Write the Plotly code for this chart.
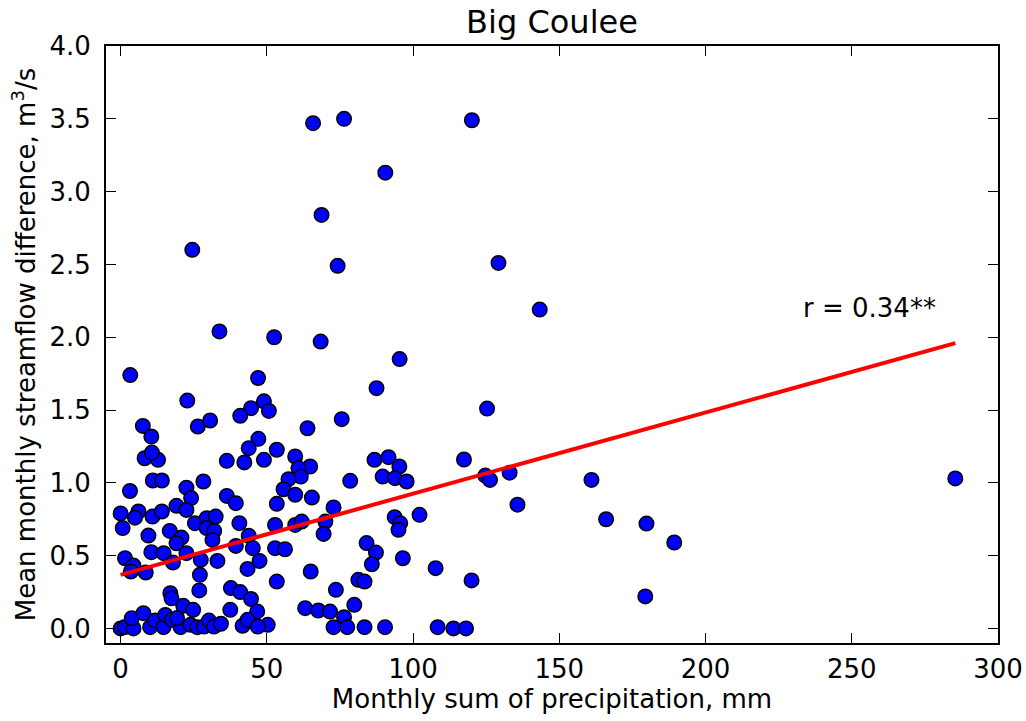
import plotly.graph_objects as go

# Monthly sum of precipitation (mm)
precip = [
    65.8, 76.4, 90.5, 68.7, 24.5, 74.2, 33.8, 52.5, 68.4, 95.4, 3.3, 47.0, 87.5,
    120.1, 129.2, 143.3, 125.3, 117.4, 124.7, 126.3, 133.0, 161.0, 135.7, 166.0, 179.8, 189.3, 285.4, 120.0, 179.4, 113.8, 118.1,
    22.8, 49.0, 44.6, 40.9, 50.7, 7.6, 26.4, 30.6, 10.5, 47.1, 43.8, 53.4, 8.2, 12.8, 10.7, 36.3, 42.3, 49.0,
    11.0, 14.1, 28.3, 3.2, 22.5, 24.1, 36.3, 39.4, 19.1, 22.5, 0.0, 6.1, 4.9, 10.9, 14.1, 0.7, 9.5, 16.8, 20.8,
    25.4, 29.4, 32.5, 29.4, 32.0, 31.4, 19.1, 10.5, 14.7, 17.9, 22.5, 27.4, 33.1, 1.5, 4.4, 3.5, 8.6, 27.1,
    39.4, 40.6, 43.8, 47.5, 43.4, 45.2, 26.9, 17.0, 17.4, 21.4, 24.8, 37.7, 40.9, 44.6, 46.7, 37.5, 50.3,
    0.0, 1.5, 4.4, 3.8, 7.8, 10.1, 11.8, 14.7, 15.3, 17.6, 20.5, 19.3, 23.9, 26.2, 28.5, 30.2, 31.9, 34.3,
    41.7, 43.4, 46.9,
    75.6, 63.9, 59.7, 86.8, 91.6, 95.3, 64.8, 60.8, 61.6, 57.4, 78.5, 89.6, 93.8, 97.8, 55.7, 59.7, 65.4,
    53.4, 72.8, 52.8, 59.7, 61.9, 70.0, 69.4, 93.7, 95.6, 95.0, 102.2, 52.8, 56.2, 84.1, 87.3, 85.9, 96.5,
    107.7, 65.0, 53.4, 81.3, 83.4, 73.6, 63.1, 67.6, 71.6, 79.9, 76.4, 72.8, 77.5, 83.4, 90.4, 108.4,
]

# Mean monthly streamflow difference (m3/s)
flow = [
    3.47, 3.50, 3.13, 2.84, 2.60, 2.49, 2.04, 2.00, 1.97, 1.85, 1.74, 1.72, 1.65,
    3.49, 2.51, 2.19, 1.51, 1.16, 1.05, 1.02, 1.07, 1.02, 0.85, 0.75, 0.72, 0.59, 1.03, 0.33, 0.22, 0.00, 0.00,
    1.565, 1.56, 1.513, 1.46, 1.494, 1.391, 1.387, 1.428, 1.318, 1.302, 1.238, 1.227, 1.169, 1.158, 1.208, 1.151, 1.14, 1.158,
    1.016, 1.016, 1.009, 0.944, 0.967, 0.895, 0.91, 0.86, 0.842, 0.814, 0.79, 0.803, 0.761, 0.768, 0.803, 0.689, 0.638, 0.67, 0.624,
    0.723, 0.757, 0.768, 0.689, 0.67, 0.608, 0.585, 0.524, 0.517, 0.453, 0.517, 0.471, 0.464, 0.482, 0.432, 0.391, 0.384, 0.368,
    0.567, 0.723, 0.636, 0.464, 0.409, 0.551, 0.261, 0.242, 0.207, 0.155, 0.128, 0.277, 0.25, 0.202, 0.117, 0.128, 0.025,
    0.0, 0.01, 0.0, 0.07, 0.105, 0.009, 0.055, 0.009, 0.093, 0.059, 0.009, 0.071, 0.025, 0.009, 0.013, 0.054, 0.013, 0.032,
    0.018, 0.059, 0.013,
    1.437, 1.375, 1.181, 1.158, 1.176, 1.112, 1.112, 1.101, 1.043, 1.025, 1.014, 1.043, 1.032, 1.009, 0.956, 0.918, 0.899,
    0.856, 0.831, 0.711, 0.711, 0.734, 0.734, 0.649, 0.764, 0.723, 0.677, 0.78, 0.551, 0.544, 0.586, 0.521, 0.441, 0.482,
    0.414, 0.391, 0.322, 0.334, 0.322, 0.265, 0.139, 0.123, 0.116, 0.162, 0.077, 0.009, 0.009, 0.009, 0.009, 0.009,
]

# Linear fit
fit_intercept = 0.368
fit_slope = 0.005575
fit_x = [min(precip), max(precip)]
fit_y = [fit_intercept + fit_slope * v for v in fit_x]

x_ticks = [0, 50, 100, 150, 200, 250, 300]
y_ticks = [0.0, 0.5, 1.0, 1.5, 2.0, 2.5, 3.0, 3.5, 4.0]

FONT = "DejaVu Sans"
TICK_SIZE = 26

fig = go.Figure()
fig.add_trace(go.Scatter(
    x=precip, y=flow, mode="markers",
    marker=dict(size=14.5, color="#0000ff", line=dict(color="black", width=1.5)),
    showlegend=False,
))
fig.add_trace(go.Scatter(
    x=fit_x, y=fit_y, mode="lines",
    line=dict(color="#ff0000", width=4),
    showlegend=False,
))

axis_common = dict(
    showgrid=False, zeroline=False, showline=True, mirror="ticks",
    linecolor="black", linewidth=2, ticks="inside", ticklen=10, tickwidth=1,
    tickcolor="black", tickfont=dict(family=FONT, size=TICK_SIZE, color="black"),
)

fig.update_layout(
    width=1026, height=721,
    margin=dict(l=106, r=28, t=46, b=78, autoexpand=False),
    paper_bgcolor="white", plot_bgcolor="white",
    font=dict(family=FONT, color="black"),
    title=dict(text="Big Coulee", x=0.5, xref="paper", xanchor="center",
               y=1 - 22 / 721, yanchor="middle",
               font=dict(family=FONT, size=32, color="black")),
    xaxis=dict(range=[-5, 300], tickvals=x_ticks, ticklabelstandoff=2,
               title=dict(text="Monthly sum of precipitation, mm",
                          font=dict(family=FONT, size=26), standoff=4),
               **axis_common),
    yaxis=dict(range=[-0.1, 4.0], tickvals=y_ticks, tickformat=".1f", ticklabelstandoff=8,
               title=dict(text="Mean monthly streamflow difference, m<sup>3</sup>/s",
                          font=dict(family=FONT, size=26), standoff=6),
               **axis_common),
    annotations=[dict(x=256.2, y=2.2, xref="x", yref="y", text="r = 0.34**", showarrow=False,
                      font=dict(family=FONT, size=26, color="black"))],
)

fig.write_html("out.html")
